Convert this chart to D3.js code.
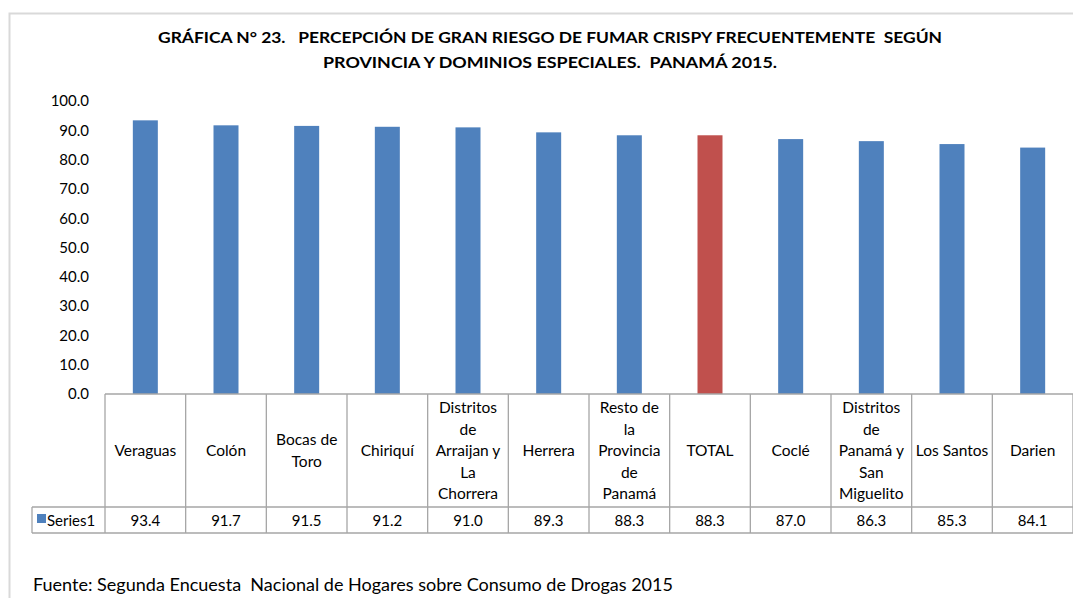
<!DOCTYPE html>
<html><head><meta charset="utf-8">
<script src="https://cdn.jsdelivr.net/npm/d3@7"></script>
<style>body{margin:0;background:#fff}svg{display:block}text{font-family:Lato,"Open Sans",sans-serif;fill:#000;white-space:pre}</style>
</head><body><svg id="c" width="1073" height="598"></svg>
<script>
const categories = ["Veraguas","Colón","Bocas de Toro","Chiriquí","Distritos de Arraijan y La Chorrera","Herrera","Resto de la Provincia de Panamá","TOTAL","Coclé","Distritos de Panamá y San Miguelito","Los Santos","Darien"];
const categoryLines = [["Veraguas"],["Colón"],["Bocas de","Toro"],["Chiriquí"],["Distritos","de","Arraijan y","La","Chorrera"],["Herrera"],["Resto de","la","Provincia","de","Panamá"],["TOTAL"],["Coclé"],["Distritos","de","Panamá y","San","Miguelito"],["Los Santos"],["Darien"]];
const values = [93.4,91.7,91.5,91.2,91.0,89.3,88.3,88.3,87.0,86.3,85.3,84.1];
const yTicks = [0,10,20,30,40,50,60,70,80,90,100];
const seriesName = "Series1";
const titleLines = ["GRÁFICA N° 23.   PERCEPCIÓN DE GRAN RIESGO DE FUMAR CRISPY FRECUENTEMENTE  SEGÚN","PROVINCIA Y DOMINIOS ESPECIALES.  PANAMÁ 2015."];
const sourceText = "Fuente: Segunda Encuesta  Nacional de Hogares sobre Consumo de Drogas 2015";

const svg = d3.select("#c");
svg.append("path").attr("d","M9.5,598 V13.5 H1073").attr("fill","none").attr("stroke","#d9d9d9").attr("stroke-width",2);

const x = d3.scaleBand().domain(categories).range([105,1073]).paddingInner(0).paddingOuter(0);
const y = d3.scaleLinear().domain([0,100]).range([394,101]);

// title
const titleW = [784, 454];
svg.append("g").selectAll("text").data(titleLines).join("text")
  .attr("x",550).attr("y",(d,i)=>43+i*24.5).attr("text-anchor","middle")
  .attr("font-weight","bold").attr("font-size",16)
  .attr("textLength",(d,i)=>titleW[i]).attr("lengthAdjust","spacingAndGlyphs").text(d=>d);

// y axis labels
const yAxis = d3.axisLeft(y).tickValues(yTicks).tickFormat(d3.format(".1f")).tickSize(0).tickPadding(0);
const ga = svg.append("g").attr("transform","translate(89,0)").call(yAxis);
ga.select(".domain").remove();
ga.selectAll("text").attr("font-size",15).attr("font-family","Lato,'Open Sans',sans-serif").attr("fill","#000");

// bars
const bw = 25;
svg.append("g").selectAll("rect").data(values).join("rect")
  .attr("x",(d,i)=>x(categories[i])+x.bandwidth()/2-bw/2)
  .attr("width",bw)
  .attr("y",d=>y(d)).attr("height",d=>y(0)-y(d))
  .attr("fill",(d,i)=>categories[i]==="TOTAL"?"#C0504D":"#4F81BD");

// data table
const tTop = y(0), r1 = 507, r2 = 533;
const tg = svg.append("g").attr("stroke","#a6a6a6").attr("stroke-width",1.3).attr("fill","none");
tg.append("line").attr("x1",105).attr("x2",1073).attr("y1",tTop).attr("y2",tTop);
tg.append("line").attr("x1",32).attr("x2",1073).attr("y1",r1).attr("y2",r1);
tg.append("line").attr("x1",32).attr("x2",1073).attr("y1",r2).attr("y2",r2);
tg.append("line").attr("x1",32).attr("x2",32).attr("y1",r1).attr("y2",r2);
const bounds = categories.map(c=>x(c)).concat([x.range()[1]]);
tg.selectAll(".v").data(bounds).join("line").attr("class","v")
  .attr("x1",d=>d).attr("x2",d=>d).attr("y1",tTop).attr("y2",r2);

// category labels
const lh = 21.5, cMid = (tTop+r1)/2;
categories.forEach((c,i)=>{
  const lines = categoryLines[i];
  const t = svg.append("text").attr("text-anchor","middle").attr("font-size",15.5);
  lines.forEach((l,j)=>{
    t.append("tspan").attr("x",x(c)+x.bandwidth()/2)
     .attr("y",cMid+(j-(lines.length-1)/2)*lh+5.5).text(l);
  });
});
// values
svg.append("g").selectAll("text").data(values).join("text")
  .attr("x",(d,i)=>x(categories[i])+x.bandwidth()/2).attr("y",(r1+r2)/2+5.5)
  .attr("text-anchor","middle").attr("font-size",15).text(d=>d.toFixed(1));
// legend key
svg.append("rect").attr("x",37).attr("y",514).attr("width",9).attr("height",9).attr("fill","#4F81BD");
svg.append("text").attr("x",47).attr("y",(r1+r2)/2+5.5).attr("font-size",15).text(seriesName);

// source
svg.append("text").attr("x",33).attr("y",591).attr("font-size",17)
  .attr("textLength",640).attr("lengthAdjust","spacingAndGlyphs").text(sourceText);
</script></body></html>
